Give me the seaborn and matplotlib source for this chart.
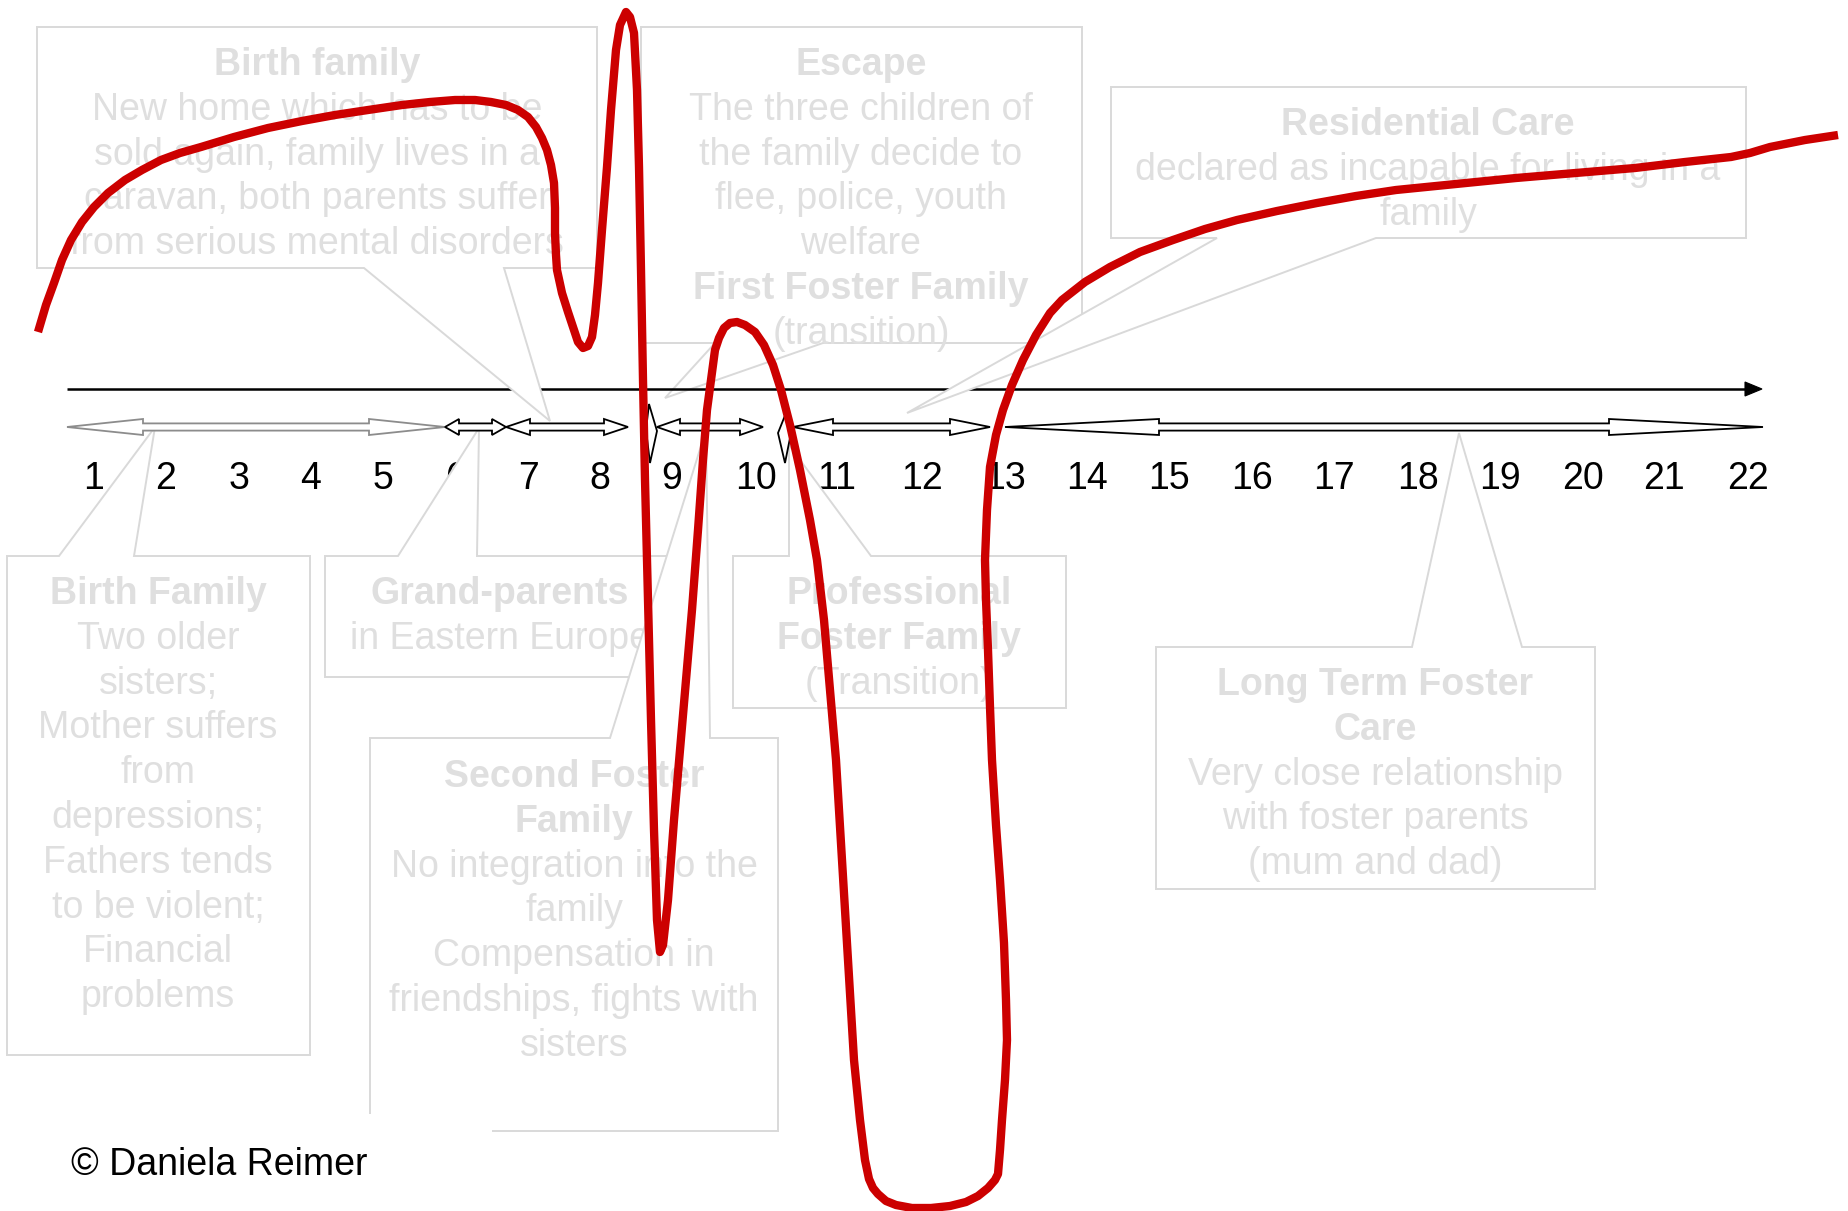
import matplotlib
matplotlib.use("Agg")
import matplotlib.pyplot as plt
from matplotlib.patches import Polygon, Rectangle
import seaborn as sns
import pandas as pd

sns.set_theme(style="white")
plt.rcParams['font.family'] = ['Liberation Sans', 'DejaVu Sans']

# ---------------- data ----------------
age_labels = [str(i) for i in range(1, 23)]

# red life-course curve (pixel space of the original)
curve_x = [38, 46, 54, 62, 71, 82, 94, 108, 125, 142, 161, 180, 201, 234, 268, 302, 335, 368, 402, 430,
           455, 475, 491, 506, 518, 528, 536, 542, 547, 551, 554, 555, 555, 556, 557, 562, 568, 574, 578, 583,
           588, 592, 595, 598, 602, 607, 611, 616, 620, 626, 630, 634, 637, 639, 641, 643, 645, 648, 651, 654,
           657, 660, 663, 668, 674, 680, 686, 692, 698, 703, 707, 711, 715, 719, 724, 730, 737, 745, 755, 764,
           773, 781, 790, 800, 810, 817, 824, 830, 836, 842, 848, 854, 860, 865, 869, 873, 878, 886, 896, 912,
           931, 950, 966, 978, 988, 995, 998, 1000, 1002, 1005, 1007, 1006, 1004, 1000, 996, 992, 990, 988, 986, 985,
           987, 990, 996, 1003, 1012, 1023, 1036, 1050, 1062, 1085, 1110, 1140, 1173, 1205, 1237, 1277, 1317, 1356, 1396, 1456,
           1516, 1575, 1635, 1685, 1731, 1750, 1770, 1805, 1838]
curve_y = [332, 305, 283, 260, 240, 222, 207, 193, 180, 170, 160, 153, 147, 137, 128, 121, 115, 110, 105, 102,
           100, 100, 102, 105, 110, 117, 127, 138, 150, 165, 183, 208, 233, 255, 270, 293, 312, 330, 342, 348,
           346, 337, 315, 283, 230, 167, 110, 50, 25, 12, 17, 33, 90, 167, 270, 380, 480, 600, 720, 830,
           920, 952, 945, 900, 820, 750, 680, 610, 530, 460, 410, 380, 350, 338, 328, 323, 322, 325, 332, 345,
           365, 390, 425, 470, 520, 560, 620, 690, 760, 860, 960, 1060, 1120, 1160, 1179, 1188, 1194, 1201, 1205, 1208,
           1208, 1206, 1202, 1196, 1188, 1180, 1174, 1150, 1120, 1080, 1040, 1000, 943, 880, 825, 760, 707, 650, 600, 560,
           510, 467, 435, 410, 385, 360, 335, 313, 300, 282, 267, 252, 240, 229, 220, 211, 203, 196, 190, 184,
           178, 173, 168, 162, 157, 153, 147, 140, 135]

box_birth_top = [("Birth family", True), ("New home which has to be", False),
                 ("sold again, family lives in a", False), ("caravan, both parents suffer", False),
                 ("from serious mental disorders", False)]
box_escape = [("Escape", True), ("The three children of", False), ("the family decide to", False),
              ("flee, police, youth", False), ("welfare", False), ("First Foster Family", True),
              ("(transition)", False)]
box_residential = [("Residential Care", True), ("declared as incapable for living in a", False),
                   ("family", False)]
box_birth_low = [("Birth Family", True), ("Two older", False), ("sisters;", False),
                 ("Mother suffers", False), ("from", False), ("depressions;", False),
                 ("Fathers tends", False), ("to be violent;", False), ("Financial", False),
                 ("problems", False)]
box_grand = [("Grand-parents", True), ("in Eastern Europe", False)]
box_second = [("Second Foster", True), ("Family", True), ("No integration into the", False),
              ("family", False), ("Compensation in", False), ("friendships, fights with", False),
              ("sisters", False)]
box_prof = [("Professional", True), ("Foster Family", True), ("(Transition)", False)]
box_long = [("Long Term Foster", True), ("Care", True), ("Very close relationship", False),
            ("with foster parents", False), ("(mum and dad)", False)]
credit = "\u00a9 Daniela Reimer"

# ---------------- layout ----------------
W, H = 1848, 1211
label_x = [94, 166, 239, 311, 383, 456, 528, 600, 672, 756, 837, 922, 1005, 1087, 1169, 1252,
           1334, 1418, 1500, 1583, 1664, 1748]
label_y = 479
LINE = 44.8
FS = 27
TXT = "#dfdfdf"
EDGE = "#d9d9d9"
DY = 4  # text vertical correction

fig = plt.figure(figsize=(W / 100, H / 100), dpi=100)
ax = fig.add_axes([0, 0, 1, 1])
ax.set_xlim(0, W)
ax.set_ylim(H, 0)
ax.axis("off")


def callout(rect, base, tip, top_wedge, z):
    x0, y0, x1, y1 = rect
    b1, b2 = base
    if top_wedge:
        pts = [(x0, y0), (b1, y0), tip, (b2, y0), (x1, y0), (x1, y1), (x0, y1)]
    else:
        pts = [(x0, y0), (x1, y0), (x1, y1), (b2, y1), tip, (b1, y1), (x0, y1)]
    ax.add_patch(Polygon(pts, closed=True, facecolor="white", edgecolor=EDGE, lw=1.4,
                         joinstyle="miter", zorder=z))


def box_text(cx, y_start, lines, z):
    for i, (t, b) in enumerate(lines):
        ax.text(cx, y_start + DY + i * LINE, t, ha="center", va="center", fontsize=FS,
                fontweight="bold" if b else "normal", color=TXT, zorder=z)


# Escape box (behind timeline)
callout((641, 27, 1082, 343), (715, 823), (665, 398), False, 1.0)
box_text(861, 61, box_escape, 1.05)

# timeline
ax.plot([67, 1746], [389, 389], color="black", lw=1.8, zorder=2, solid_capstyle="butt")
ax.add_patch(Polygon([(1745, 382), (1762, 389), (1745, 396)], closed=True, facecolor="black",
                     edgecolor="black", lw=0.8, zorder=2))

for lab, lx in zip(age_labels, label_x):
    ax.text(lx, label_y, lab, ha="center", va="center", fontsize=FS, color="black", zorder=2.5)

# other callouts
callout((37, 27, 597, 268), (364, 504), (550, 421), False, 3.0)
box_text(317, 61, box_birth_top, 3.05)
callout((1111, 87, 1746, 238), (1217, 1376), (907, 413), False, 3.1)
box_text(1428, 121, box_residential, 3.15)
callout((7, 556, 310, 1055), (59, 134), (155, 427), True, 3.2)
box_text(158, 590, box_birth_low, 3.25)
callout((325, 556, 680, 677), (398, 477), (479, 428), True, 3.3)
box_text(500, 590, box_grand, 3.35)
callout((370, 738, 778, 1131), (610, 710), (706, 430), True, 3.4)
box_text(574, 773, box_second, 3.45)
callout((733, 556, 1066, 708), (789, 871), (789, 445), True, 3.5)
box_text(899, 590, box_prof, 3.55)
callout((1156, 647, 1595, 889), (1412, 1522), (1459, 433), True, 3.6)
box_text(1375, 681, box_long, 3.65)


# double arrows
def dbl_arrow(x0, x1, hl, color="black", y=427, hh=8, sh=3.6, z=4):
    pts = [(x0, y), (x0 + hl, y - hh), (x0 + hl, y - sh), (x1 - hl, y - sh), (x1 - hl, y - hh),
           (x1, y), (x1 - hl, y + hh), (x1 - hl, y + sh), (x0 + hl, y + sh), (x0 + hl, y + hh)]
    ax.add_patch(Polygon(pts, closed=True, facecolor="white", edgecolor=color, lw=1.3,
                         joinstyle="miter", zorder=z))


dbl_arrow(67, 445, 76, color="#8c8c8c")
dbl_arrow(445, 506, 14)
dbl_arrow(506, 628, 24)
dbl_arrow(657, 763, 23)
dbl_arrow(793, 990, 40)
dbl_arrow(1005, 1763, 154)
ax.add_patch(Polygon([(649, 404), (657, 431), (650, 463), (646, 430)], closed=True,
                     facecolor="white", edgecolor="black", lw=1.3, zorder=4))
ax.add_patch(Polygon([(786, 413), (792, 428), (785, 463), (778, 433)], closed=True,
                     facecolor="white", edgecolor="black", lw=1.3, zorder=4))

# credit
ax.add_patch(Rectangle((50, 1114), 442, 97, facecolor="white", edgecolor="none", zorder=4.5))
ax.text(71, 1165, credit, ha="left", va="center", fontsize=FS, color="black", zorder=4.6)

# red curve
df = pd.DataFrame({"x": curve_x, "y": curve_y})
sns.lineplot(data=df, x="x", y="y", sort=False, estimator=None, color="#cc0000",
             linewidth=6.0, ax=ax, zorder=10)
ln = ax.lines[-1]
ln.set_linewidth(6.0)
ln.set_solid_joinstyle("round")
ln.set_solid_capstyle("butt")
ax.set_xlim(0, W)
ax.set_ylim(H, 0)
ax.axis("off")

fig.savefig("out.png", dpi=100)
